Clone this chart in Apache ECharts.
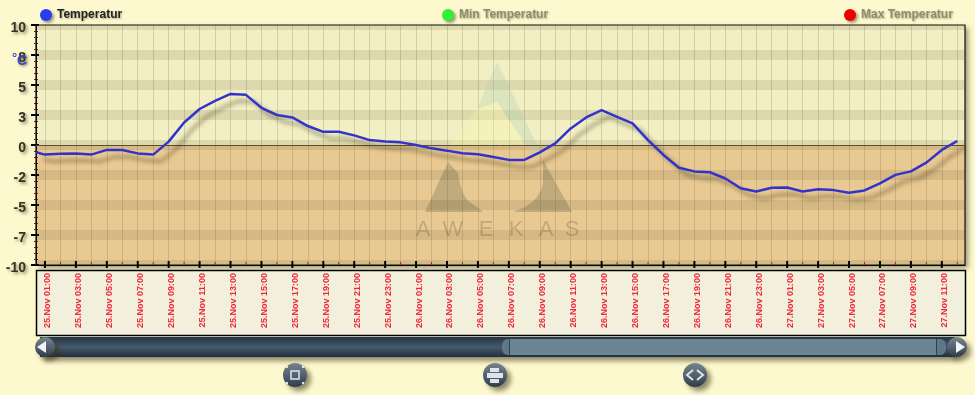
<!DOCTYPE html>
<html>
<head>
<meta charset="utf-8">
<style>html,body{margin:0;padding:0;background:#fdf8cd}#c{width:975px;height:395px}</style>
<script src="https://cdn.jsdelivr.net/npm/echarts@6/dist/echarts.min.js"></script>
</head>
<body>
<div id="c"></div>
<script>
var seriesNames = ['Temperatur', 'Min Temperatur', 'Max Temperatur'];
var firstReading = [-0.58, -0.6];
var temperature = [
  -0.8,-0.72,-0.7,-0.8,-0.41,-0.41,-0.7,-0.8,0.28,1.88,3.0,3.68,4.26,4.18,3.1,2.5,2.3,1.58,1.1,1.1,0.8,0.41,0.3,
  0.22,0,-0.28,-0.47,-0.69,-0.77,-1.0,-1.24,-1.24,-0.61,0.14,1.38,2.3,2.9,2.35,1.8,0.41,-0.83,-1.9,-2.2,-2.27,-2.79,-3.6,-3.87,
  -3.57,-3.54,-3.87,-3.68,-3.76,-3.98,-3.79,-3.2,-2.49,-2.2,-1.47,-0.41,0.33
];
var timeLabels = [
  '25.Nov 01:00','25.Nov 03:00','25.Nov 05:00','25.Nov 07:00','25.Nov 09:00','25.Nov 11:00','25.Nov 13:00','25.Nov 15:00',
  '25.Nov 17:00','25.Nov 19:00','25.Nov 21:00','25.Nov 23:00','26.Nov 01:00','26.Nov 03:00','26.Nov 05:00','26.Nov 07:00',
  '26.Nov 09:00','26.Nov 11:00','26.Nov 13:00','26.Nov 15:00','26.Nov 17:00','26.Nov 19:00','26.Nov 21:00','26.Nov 23:00',
  '27.Nov 01:00','27.Nov 03:00','27.Nov 05:00','27.Nov 07:00','27.Nov 09:00','27.Nov 11:00'
];
var bandCentres = [10,7.5,5,2.5,0,-2.5,-5,-7.5,-10];
var bandHalf = 0.415;
var hourMin = -0.58, hourMax = 59.5;

var points = [firstReading].concat(temperature.map(function(v,i){return [i,v];}));
var oddHours = timeLabels.map(function(_,i){return i*2;});
var evenHours = timeLabels.map(function(_,i){return i*2+1;});
var allHours = temperature.map(function(_,i){return i;});

var areas = [
  [{yAxis:10,itemStyle:{color:'#f2efc4'}},{yAxis:0}],
  [{yAxis:0,itemStyle:{color:'#e9c992'}},{yAxis:-10}]
].concat(bandCentres.map(function(c){
  return [{yAxis:Math.min(10,c+bandHalf),itemStyle:{color:'rgba(100,90,50,0.15)'}},{yAxis:Math.max(-10,c-bandHalf)}];
}));

var shadow = {shadowColor:'rgba(60,50,20,0.55)',shadowBlur:5,shadowOffsetX:4,shadowOffsetY:4};
var white = '#dfe4ea';

function btn(cx,cy,r){
  return {type:'circle',z:5,shape:{cx:cx,cy:cy,r:r},style:Object.assign({
    fill:new echarts.graphic.LinearGradient(0,0,0,1,[{offset:0,color:'#76848f'},{offset:0.55,color:'#505f6d'},{offset:1,color:'#2e3b47'}])
  },shadow)};
}
function rect(x,y,w,h,fill){return {type:'rect',z:6,shape:{x:x,y:y,width:w,height:h},style:{fill:fill}};}
function poly(p,fill,z){return {type:'polygon',z:z==null?6:z,shape:{points:p},style:{fill:fill}};}
function lin(p,w){return {type:'polyline',z:6,shape:{points:p},style:{stroke:white,lineWidth:w,fill:null}};}

var wmText = ['A','W','E','K','A','S'];
var wmX = [423,453,486,516,546,572];
var wm = wmText.map(function(t,i){
  return {type:'text',z:1,x:wmX[i],y:230,style:{text:t,fill:'rgba(90,80,50,0.27)',font:'22px "Liberation Sans"',align:'center',verticalAlign:'middle'}};
});

var graphics = [
  {type:'rect',z:0,shape:{x:36.5,y:270.5,width:929,height:65},style:{fill:'#f2efdc',stroke:'#000',lineWidth:1.5}},
  // plot frame
  {type:'rect',z:2,silent:true,shape:{x:36,y:25,width:929,height:240},style:{fill:null,stroke:'#111',lineWidth:1.2}},
  // watermark
  poly([[477,109],[497,102],[525,146],[448,146]],'rgba(250,245,170,0.3)',1),
  poly([[497,62],[477,109],[497,102],[530,150],[543,160],[538,147]],'rgba(170,205,175,0.3)',1),
  poly([[448,162],[425,212],[483,212],[477,207],[468,201],[463,193],[460,184],[458,173]],'rgba(90,90,75,0.28)',1),
  poly([[543,160],[572,212],[513,212],[523,208],[531,203],[537,197],[541,190],[543,183]],'rgba(90,90,75,0.28)',1)
].concat(wm).concat([
  // scrollbar
  {type:'rect',z:4,shape:{x:40,y:337,width:915,height:20},style:Object.assign({
    fill:new echarts.graphic.LinearGradient(0,0,0,1,[{offset:0,color:'#22344a'},{offset:0.5,color:'#46596b'},{offset:1,color:'#1f2f40'}])
  },shadow)},
  {type:'rect',z:5,shape:{x:502,y:339,width:444,height:16,r:6},style:{fill:'#5f7888'}},
  {type:'rect',z:5,shape:{x:510,y:339,width:427,height:16},style:{fill:'#6c8595'}},
  {type:'rect',z:5,shape:{x:509,y:339,width:1,height:16},style:{fill:'#2f4254'}},
  {type:'rect',z:5,shape:{x:936,y:339,width:1,height:16},style:{fill:'#2f4254'}},
  btn(45,347,10),
  poly([[37,347],[46,341],[46,353]],'#f2f4f6'),
  btn(957,347,10),
  poly([[965,347],[956,341],[956,353]],'#f2f4f6'),
  // fit button
  btn(295,375,12),
  {type:'rect',z:6,shape:{x:291,y:371,width:8,height:8},style:{fill:null,stroke:white,lineWidth:1.5}},
  rect(286,366,2,2,white),rect(302,366,2,2,white),rect(286,382,2,2,white),rect(302,382,2,2,white),
  // print button
  btn(495,375,12),
  rect(490,368,9,4,white),
  rect(487,373,16,5,white),
  rect(490,379,9,4,white),
  // code button
  btn(695,375,12),
  lin([[693,370],[687,375],[693,380]],2),
  lin([[697,370],[703,375],[697,380]],2),
  // unit
  {type:'text',z:6,x:12,y:52,style:{text:'°',font:'bold 13px "Liberation Sans"',fill:'#3a48c8'}},
  {type:'text',z:6,x:17,y:54,style:{text:'C',font:'bold 14px "Liberation Sans"',fill:'#3a48c8',textShadowColor:'rgba(60,50,20,0.6)',textShadowBlur:3,textShadowOffsetX:1,textShadowOffsetY:1}}
]);

function legend(name,left,color){
  return {
    data:[name],left:left,top:9,itemWidth:12,itemHeight:12,itemGap:7,icon:'circle',padding:0,selectedMode:false,
    itemStyle:{shadowColor:'rgba(60,50,20,0.5)',shadowBlur:3,shadowOffsetX:2,shadowOffsetY:2},
    textStyle:{color:color,fontSize:12,fontWeight:'bold',fontFamily:'Liberation Sans',
      textShadowColor:'rgba(60,50,20,0.4)',textShadowBlur:2,textShadowOffsetX:1,textShadowOffsetY:1}
  };
}

var tickFont = {color:'#333322',fontSize:14,fontWeight:'bold',fontFamily:'Liberation Sans',verticalAlign:'top',lineHeight:6,
  textShadowColor:'rgba(60,50,20,0.5)',textShadowBlur:3,textShadowOffsetX:2,textShadowOffsetY:2};

function tickMarks(hours,up,down,color,width){
  return {
    type:'custom',data:hours.map(function(h){return [h,-10];}),z:5,silent:true,clip:false,
    encode:{x:0,y:1},
    renderItem:function(params,api){
      var p = api.coord([api.value(0),api.value(1)]);
      return {type:'line',shape:{x1:p[0],y1:p[1]-up,x2:p[0],y2:p[1]+down},style:{stroke:color,lineWidth:width}};
    }
  };
}

var option = {
  animation:false,
  backgroundColor:'#fdf8cd',
  legend:[legend(seriesNames[0],40,'#222'),legend(seriesNames[1],442,'#8f8d70'),legend(seriesNames[2],844,'#8f8d70')],
  grid:{left:36,top:25,width:929,height:240,show:true,z:-2,backgroundColor:'#f2efc4',borderWidth:0,
    shadowColor:'rgba(60,50,20,0.5)',shadowBlur:5,shadowOffsetX:3,shadowOffsetY:3},
  xAxis:{
    type:'value',min:hourMin,max:hourMax,position:'bottom',
    axisLine:{show:true,onZero:false,lineStyle:{color:'#000',width:1}},
    axisTick:{show:false,customValues:allHours},
    axisLabel:{show:true,customValues:oddHours,rotate:90,margin:8,hideOverlap:false,verticalAlign:'top',lineHeight:6,
      color:'#f0283c',fontSize:9,fontWeight:'bold',fontFamily:'Liberation Sans',
      formatter:function(v){return timeLabels[Math.round(v/2)];}},
    splitLine:{show:true,lineStyle:{color:'rgba(100,90,50,0.22)',width:1,type:'solid'}}
  },
  yAxis:[{
    type:'value',min:-10,max:10,interval:2.5,position:'left',
    axisLine:{show:true,onZero:false,lineStyle:{color:'#000',width:1}},
    axisTick:{show:true,length:5,lineStyle:{color:'#000',width:2}},
    minorTick:{show:true,splitNumber:5,length:2,lineStyle:{color:'#8b1a10',width:1}},
    axisLabel:Object.assign({margin:10,formatter:function(v){return String(Math.round(v));}},tickFont),
    splitLine:{show:false}
  },{
    type:'value',min:-10,max:10,interval:2.5,position:'left',
    axisLine:{show:false,onZero:false},
    axisTick:{show:true,inside:true,length:3,lineStyle:{color:'#000',width:2}},
    minorTick:{show:true,splitNumber:5,length:2,lineStyle:{color:'#8b1a10',width:1}},
    axisLabel:{show:false},
    splitLine:{show:false}
  }],
  graphic:{elements:graphics},
  series:[{
    name:seriesNames[0],type:'line',data:points,showSymbol:false,symbol:'none',z:3,
    itemStyle:{color:'#2a3cf0'},
    lineStyle:{color:'#3333cc',width:2.5,shadowColor:'rgba(60,50,20,0.5)',shadowBlur:4,shadowOffsetX:8,shadowOffsetY:7},
    markArea:{silent:true,z:-1,data:areas},
    markLine:{silent:true,symbol:'none',label:{show:false},z:2,lineStyle:{color:'#5a4f2c',width:1,type:'solid'},data:[{yAxis:0}]}
  },{
    name:seriesNames[1],type:'line',data:[],itemStyle:{color:'#33ee33'}
  },{
    name:seriesNames[2],type:'line',data:[],itemStyle:{color:'#ee0000'}
  },
  tickMarks(oddHours,4,3,'#000',2),
  tickMarks(evenHours,3,0,'#a02a1a',1)
  ]
};
echarts.init(document.getElementById('c'),null,{renderer:'canvas'}).setOption(option);
</script>
</body>
</html>
